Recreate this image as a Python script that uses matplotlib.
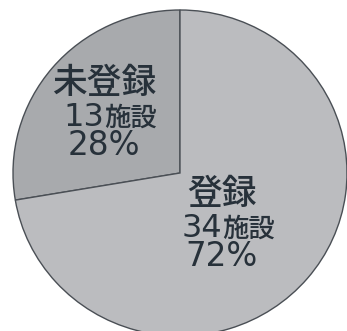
import matplotlib
matplotlib.use('Agg')
from matplotlib import pyplot as plt

CJK = ['Noto Sans CJK JP', 'DejaVu Sans']
plt.rcParams['font.family'] = CJK

# facility registration status
labels = ['未登録', '登録']
counts = [13, 34]
percents = [28, 72]
colors = ['#a8aaad', '#bbbcbf']

TEXT = '#27313a'
# label centre x and first baseline y for each slice, in data units
anchors = [(-0.455, 0.49), (0.25, -0.19)]
step1, step2 = 0.2, 0.178

fig = plt.figure(figsize=(3.47, 3.31), dpi=100)
ax = fig.add_axes([0, 0, 1, 1])

ax.pie(counts, colors=colors, startangle=90, counterclock=True,
       wedgeprops={'edgecolor': '#4a4f55', 'linewidth': 1.0})

for (x, y), name, n, pct in zip(anchors, labels, counts, percents):
    ax.text(x, y, name, ha='center', va='baseline', fontsize=25,
            color=TEXT, fontweight='medium')
    ax.text(x, y - step1, str(n), ha='right', va='baseline',
            fontsize=23, color=TEXT, family='DejaVu Sans')
    ax.text(x, y - step1, '施設', ha='left', va='baseline',
            fontsize=19, color=TEXT, fontweight='medium')
    ax.text(x, y - step1 - step2, f'{pct}%', ha='center', va='baseline',
            fontsize=23.5, color=TEXT, family='DejaVu Sans')

# pie is slightly squashed vertically in the original layout
ax.set_aspect('auto')
ax.set_xlim(-180 / 167, 1.0)
ax.set_ylim(-158 / 163, 173 / 163)
ax.axis('off')

fig.savefig('out.png', dpi=100)
